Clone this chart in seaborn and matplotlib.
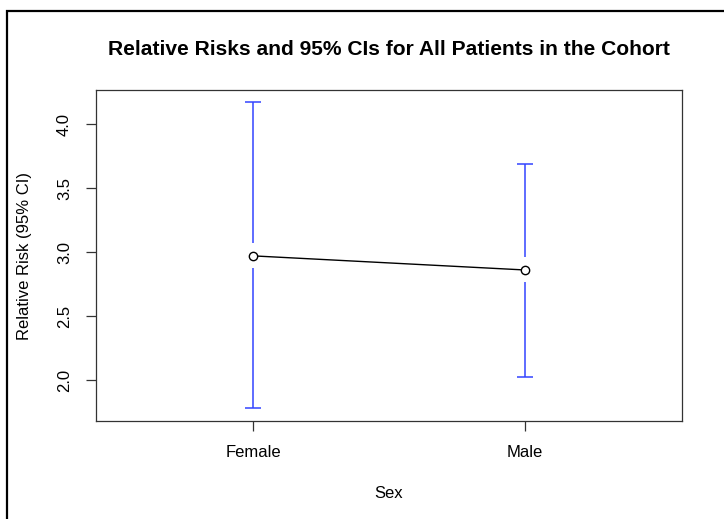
import matplotlib
matplotlib.use("Agg")
import matplotlib.pyplot as plt
from matplotlib.patches import Rectangle
import pandas as pd
import seaborn as sns

# Relative risks with 95% confidence intervals by sex
sex = ["Female", "Male"]
relative_risk = [2.97, 2.86]
ci_lower = [1.78, 2.02]
ci_upper = [4.17, 3.69]

df = pd.DataFrame({"Sex": sex, "RR": relative_risk,
                   "lower": ci_lower, "upper": ci_upper})

sns.set_style("ticks")
plt.rcParams["font.family"] = ["Liberation Sans", "DejaVu Sans"]
plt.rcParams["axes.edgecolor"] = "#333333"
plt.rcParams["xtick.color"] = "#333333"
plt.rcParams["ytick.color"] = "#333333"
plt.rcParams["xtick.labelcolor"] = "black"
plt.rcParams["ytick.labelcolor"] = "black"
plt.rcParams["text.color"] = "black"
plt.rcParams["axes.labelcolor"] = "black"
plt.rcParams["axes.titlecolor"] = "black"

W, H = 724, 519
fig = plt.figure(figsize=(W / 100, H / 100), dpi=100)
ax = fig.add_axes([96 / W, (H - 421) / H, 586 / W, 331 / H])

# outer frame around the figure
fig.add_artist(Rectangle((7 / W, -0.5), 2.0, 1.5 - 11 / H,
                         transform=fig.transFigure, fill=False,
                         edgecolor="black", linewidth=1.6))

ax.set_xlim(-0.58, 1.58)
ax.set_ylim(1.68, 4.266)

# point estimates joined by a line
sns.pointplot(data=df, x="Sex", y="RR", color="black", errorbar=None,
              markers="o", linestyles="-", linewidth=1.0, markersize=6.0,
              markerfacecolor="white", markeredgecolor="black",
              markeredgewidth=1.0, ax=ax, zorder=3)
ax.set_xlim(-0.58, 1.58)
ax.set_ylim(1.68, 4.266)

# confidence interval bars, broken around each point
px_per_unit = (ax.transData.transform((0, 1))[1]
               - ax.transData.transform((0, 0))[1])
gap = 12.5 / px_per_unit
cap = 0.029
bar_color = "#3344ff"
for i, row in df.iterrows():
    ax.vlines(i, row["lower"], row["RR"] - gap, color=bar_color, lw=1.1)
    ax.vlines(i, row["RR"] + gap, row["upper"], color=bar_color, lw=1.1)
    ax.hlines([row["lower"], row["upper"]], i - cap, i + cap,
              color=bar_color, lw=1.1)

ax.set_yticks([2.0, 2.5, 3.0, 3.5, 4.0])
ax.set_yticklabels(["2.0", "2.5", "3.0", "3.5", "4.0"], rotation=90,
                   va="center")
ax.tick_params(axis="both", length=7.2, width=0.9, labelsize=12, pad=10)

for s in ax.spines.values():
    s.set_visible(True)
    s.set_linewidth(0.9)

ax.set_title("Relative Risks and 95% CIs for All Patients in the Cohort",
             fontsize=15.1, fontweight="bold", pad=25)
ax.set_xlabel("Sex", fontsize=12)
ax.set_ylabel("Relative Risk (95% CI)", fontsize=12)
ax.xaxis.set_label_coords(0.5, -0.197)
ax.yaxis.set_label_coords(-0.109, 0.5)

fig.savefig("out.png", dpi=100)
